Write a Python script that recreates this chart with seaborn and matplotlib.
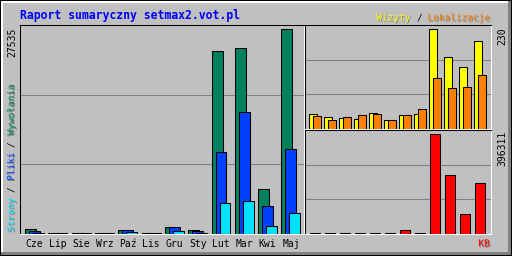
import numpy as np
import matplotlib
matplotlib.use("Agg")
import matplotlib.pyplot as plt
import matplotlib.patheffects as pe
from matplotlib.patches import Rectangle
import seaborn as sns

# ---- data ----
months = ["Cze", "Lip", "Sie", "Wrz", "Paź", "Lis", "Gru", "Sty", "Lut", "Mar", "Kwi", "Maj"]
hits = [670, 200, 200, 200, 540, 200, 940, 540, 24573, 24977, 6012, 27535]
files = [400, 150, 150, 150, 540, 150, 900, 400, 10989, 16369, 3766, 11433]
pages = [150, 100, 100, 100, 250, 100, 400, 200, 4170, 4439, 1076, 2825]
visits = [35, 27, 25, 23, 36, 20, 32, 34, 230, 165, 142, 202]
sites = [29, 20, 27, 32, 34, 20, 32, 46, 117, 94, 98, 124]
kbytes = [4500, 4500, 4500, 4500, 4500, 4500, 14700, 4500, 396311, 233330, 78300, 201530]

title = "Raport sumaryczny setmax2.vot.pl"
max_hits_label = "27535"
max_visits_label = "230"
max_kb_label = "396311"

# ---- colours ----
BG = "#C0C0C0"
DK = "#808080"
C_HIT = "#00805C"
C_FILE = "#0040FF"
C_PAGE = "#00E0FF"
C_VISIT = "#FFFF00"
C_SITE = "#FF8000"
C_KB = "#FF0000"
FONT = "DejaVu Sans Mono"

W, H = 512, 256
fig = plt.figure(figsize=(W / 100, H / 100), dpi=100, facecolor=BG)
LW = 0.75


def ax_px(x0, y0, x1, y1):
    return fig.add_axes([x0 / W, 1 - y1 / H, (x1 - x0) / W, (y1 - y0) / H])


def frect(x, y, w, h, c):
    fig.add_artist(Rectangle((x / W, 1 - (y + h) / H), w / W, h / H,
                             transform=fig.transFigure, facecolor=c,
                             edgecolor="none", zorder=0))


def bars(ax, vals, offset, width, color):
    pos = np.arange(len(vals)) + offset
    sns.barplot(x=pos, y=vals, native_scale=True, width=width, color=color,
                saturation=1, edgecolor="black", linewidth=LW,
                errorbar=None, ax=ax, zorder=3)


def style(ax, xlim, ymax):
    ax.set_facecolor(BG)
    ax.set_xlim(*xlim)
    ax.set_ylim(0, ymax)
    ax.set_yticks([ymax / 3, 2 * ymax / 3])
    ax.set_yticklabels([])
    ax.tick_params(axis="y", length=0)
    ax.yaxis.grid(True, color=DK, linewidth=LW)
    ax.xaxis.grid(False)
    ax.set_axisbelow(True)
    ax.set_xlabel("")
    ax.set_ylabel("")
    for s in ("left", "top"):
        ax.spines[s].set_color("black")
        ax.spines[s].set_linewidth(LW)
    for s in ("right", "bottom"):
        ax.spines[s].set_color("white")
        ax.spines[s].set_linewidth(LW)


# ---- main panel: hits / files / pages ----
axm = ax_px(20, 25, 304, 234)
bars(axm, hits, 0.0, 0.47, C_HIT)
bars(axm, files, 0.171, 0.47, C_FILE)
bars(axm, pages, 0.342, 0.47, C_PAGE)
style(axm, (-0.449, 11.73), max(hits) * 209 / 204.7)
axm.set_xticks(np.arange(len(months)) + 0.171)
axm.set_xticklabels(months, fontfamily=FONT, fontsize=7, color="black")
axm.tick_params(axis="x", length=0, pad=3.5)

# ---- top right: visits / sites ----
axv = ax_px(305, 25, 491, 129)
bars(axv, visits, 0.0, 0.5, C_VISIT)
bars(axv, sites, 0.267, 0.5, C_SITE)
style(axv, (-0.533, 11.867), max(visits) * 104 / 99.7)
axv.set_xticks([])

# ---- bottom right: kbytes ----
axk = ax_px(305, 130, 491, 234)
bars(axk, kbytes, 0.133, 0.667, C_KB)
style(axk, (-0.533, 11.867), max(kbytes) * 104 / 99.7)
axk.set_xticks([])

# ---- frame ----
frect(0, 0, 512, 1, "black")
frect(0, 255, 512, 1, "black")
frect(0, 0, 1, 256, "black")
frect(511, 0, 1, 256, "black")
frect(1, 1, 509, 2, "white")
frect(1, 1, 2, 253, "white")
frect(508, 1, 3, 254, DK)
frect(1, 252, 510, 3, DK)

shadow = [pe.withSimplePatchShadow(offset=(0.72, -0.72), shadow_rgbFace=DK, alpha=1.0)]


def ftext(x, y, s, **kw):
    kw.setdefault("fontfamily", FONT)
    return fig.text(x / W, 1 - y / H, s, **kw)


# title
ftext(20, 19, title, fontsize=8.3, fontweight="bold", color="#0000FF",
      ha="left", va="baseline")

# max labels (rotated)
ftext(15, 28, max_hits_label, fontsize=7, color="black", rotation=90,
      rotation_mode="anchor", ha="right", va="baseline")
ftext(505, 27, max_visits_label, fontsize=7, color="black", rotation=90,
      rotation_mode="anchor", ha="right", va="baseline")
ftext(505, 131, max_kb_label, fontsize=7, color="black", rotation=90,
      rotation_mode="anchor", ha="right", va="baseline")

# left legend (rotated, multi-colour)
FS_LEG = 6.8
cw = 0.6021 * FS_LEG * 100 / 72
left_parts = [("Strony", C_PAGE, 0), ("/", "black", 7), ("Pliki", C_FILE, 9),
              ("/", "black", 15), ("Wywołania", C_HIT, 17)]
for s, c, k in left_parts:
    ftext(14, 232 - k * cw, s, fontsize=FS_LEG, color=c, rotation=90,
          rotation_mode="anchor", ha="left", va="baseline",
          path_effects=shadow if c != "black" else None)

# top-right legend
right_parts = [("Wizyty", C_VISIT, 0), ("/", "black", 7), ("Lokalizacje", C_SITE, 9)]
total = 20
x_start = 490 - total * cw
for s, c, k in right_parts:
    ftext(x_start + k * cw, 20.5, s, fontsize=FS_LEG, color=c, ha="left",
          va="baseline", path_effects=shadow if c != "black" else None)

# KB label
ftext(490, 246.5, "KB", fontsize=7, color=C_KB, ha="right", va="baseline",
      path_effects=shadow)

fig.savefig("out.png", dpi=100, facecolor=BG)
